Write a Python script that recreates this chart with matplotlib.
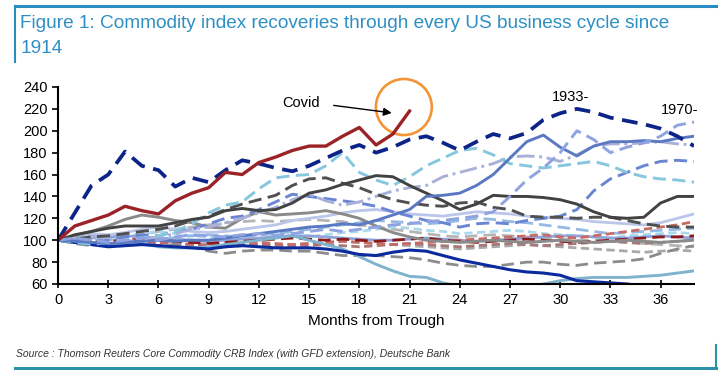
import matplotlib.pyplot as plt
from matplotlib.patches import Ellipse
from matplotlib.lines import Line2D

plt.rcParams['font.family'] = ['Liberation Sans', 'DejaVu Sans']

# months from trough
months = list(range(39))
covid_months = list(range(22))

covid = [100, 113, 118, 123, 131, 127, 124, 136, 143, 148, 162, 160, 171, 176, 182, 186,
         186, 195, 203, 187, 197, 218]
y1933 = [100, 125, 150, 160, 181, 168, 164, 149, 157, 153, 164, 173, 170, 166, 163, 168,
         175, 182, 187, 180, 185, 192, 195, 189, 182, 190, 197, 193, 198, 210, 216, 220,
         217, 212, 209, 206, 202, 195, 186]
y1970 = [100, 102, 100, 98, 100, 102, 100, 103, 105, 104, 103, 105, 106, 104, 106, 108,
         110, 108, 110, 112, 114, 115, 117, 118, 120, 122, 126, 140, 155, 166, 180, 200,
         192, 180, 185, 189, 195, 205, 208]
steel_solid = [100, 99, 98, 97, 98, 99, 100, 99, 100, 100, 102, 104, 106, 108, 110, 112,
               113, 115, 114, 118, 123, 128, 140, 141, 143, 150, 160, 175, 190, 196, 185,
               177, 186, 190, 190, 191, 190, 193, 195]
dark_gray_solid = [100, 105, 108, 111, 113, 113, 113, 116, 119, 121, 127, 129, 127, 128,
                   134, 143, 146, 151, 155, 159, 158, 150, 143, 136, 128, 133, 141, 140,
                   140, 139, 137, 133, 126, 121, 120, 121, 134, 140, 140]
gray_solid = [100, 104, 108, 113, 119, 123, 121, 118, 116, 112, 111, 120, 126, 123, 124,
              125, 127, 124, 120, 113, 107, 103, 100, 99, 98, 99, 100, 99, 98, 99, 100,
              99, 98, 99, 100, 99, 98, 99, 100]
sky_dashed = [100, 98, 96, 98, 100, 102, 104, 108, 115, 125, 132, 135, 147, 157, 159, 160,
              168, 180, 162, 155, 150, 158, 168, 175, 182, 184, 178, 170, 168, 166, 168,
              170, 172, 168, 162, 158, 156, 155, 153]
dark_gray_dashed = [100, 101, 103, 104, 106, 108, 110, 113, 118, 122, 128, 133, 137, 141,
                    150, 156, 157, 152, 148, 142, 137, 134, 132, 131, 134, 135, 130, 128,
                    122, 121, 121, 120, 121, 121, 118, 115, 113, 112, 112]
lavender_dashdot = [100, 103, 104, 101, 99, 100, 103, 106, 110, 112, 116, 120, 125, 130,
                    137, 142, 136, 132, 135, 140, 145, 148, 150, 158, 162, 166, 170, 176,
                    177, 176, 172, 178, 186, 188, 188, 189, 190, 188, 187]
blue_dashed = [100, 101, 99, 100, 103, 105, 104, 108, 110, 115, 120, 122, 128, 135, 142,
               140, 138, 136, 134, 131, 126, 122, 118, 116, 112, 115, 116, 115, 118, 120,
               122, 128, 145, 156, 162, 168, 172, 173, 172]
teal_solid = [100, 98, 96, 95, 96, 97, 94, 93, 93, 94, 96, 98, 100, 102, 104, 100, 96, 92,
              85, 78, 72, 67, 66, 61, 58, 56, 55, 56, 58, 60, 63, 65, 66, 66, 66, 67, 68,
              70, 72]
navy_solid = [100, 98, 96, 94, 95, 96, 95, 94, 93, 92, 94, 95, 94, 93, 93, 93, 92, 90, 87,
              86, 89, 91, 90, 86, 82, 79, 76, 73, 71, 70, 68, 63, 62, 61, 60, 58, 57, 56, 55]
gray_dashed_low = [100, 97, 95, 97, 99, 97, 95, 96, 94, 90, 88, 90, 91, 91, 90, 90, 88, 86,
                   86, 86, 85, 84, 82, 79, 77, 76, 76, 78, 80, 80, 78, 77, 79, 80, 81, 83,
                   88, 92, 95]
red_dashed = [100, 99, 98, 99, 100, 101, 100, 99, 98, 97, 98, 99, 100, 101, 102, 101, 100,
              101, 100, 99, 100, 101, 102, 100, 99, 98, 99, 100, 101, 100, 99, 98, 99, 100,
              101, 102, 103, 103, 104]
rose_dashed = [100, 98, 97, 96, 98, 99, 98, 97, 96, 95, 96, 97, 98, 97, 96, 97, 98, 99, 98,
               97, 96, 97, 98, 99, 100, 101, 102, 103, 104, 105, 103, 102, 104, 106, 108,
               110, 112, 114, 117]
mauve_dashed = [100, 99, 98, 97, 96, 97, 98, 97, 96, 95, 94, 95, 96, 95, 94, 95, 96, 95, 94,
                95, 96, 97, 96, 95, 94, 95, 96, 97, 96, 95, 96, 97, 98, 99, 98, 97, 98, 99, 100]
light_gray_dashed = [100, 101, 103, 104, 103, 105, 108, 110, 112, 114, 116, 117, 118, 117,
                     118, 119, 118, 117, 114, 112, 110, 108, 106, 104, 103, 104, 105, 104,
                     103, 102, 101, 100, 100, 99, 98, 97, 96, 95, 94]
silver_dashed = [100, 99, 100, 101, 100, 99, 98, 97, 96, 97, 98, 97, 96, 95, 96, 97, 98, 99,
                 98, 97, 96, 95, 94, 93, 92, 93, 94, 95, 96, 95, 94, 93, 92, 91, 90, 89, 90,
                 91, 90]
lilac_solid = [100, 104, 106, 105, 107, 110, 112, 110, 108, 107, 108, 110, 112, 114, 118,
               120, 122, 125, 127, 128, 126, 124, 123, 122, 124, 126, 125, 124, 122, 121,
               120, 119, 117, 116, 115, 114, 116, 120, 124]
pale_sky_dashed = [100, 102, 103, 101, 104, 106, 108, 106, 104, 103, 102, 104, 105, 106,
                   104, 103, 105, 107, 108, 110, 112, 111, 109, 108, 106, 107, 108, 109,
                   108, 106, 105, 104, 103, 102, 104, 105, 106, 107, 106]
periwinkle_solid = [100, 101, 102, 103, 104, 103, 102, 101, 100, 99, 100, 101, 102, 103,
                    104, 104, 103, 102, 101, 100, 100, 101, 102, 101, 100, 99, 100, 101,
                    102, 103, 104, 104, 103, 102, 102, 103, 104, 103, 102]
cornflower_dashed = [100, 103, 102, 100, 99, 101, 103, 102, 104, 105, 104, 103, 105, 106,
                     108, 110, 112, 114, 116, 118, 117, 116, 115, 116, 118, 120, 119, 117,
                     116, 114, 112, 110, 108, 106, 107, 108, 109, 110, 111]

x_ticks = list(range(0, 37, 3))
y_ticks = list(range(60, 241, 20))

LONG = (0, (4.5, 2.2))
SHORT = (0, (3, 1.6))
DASHDOT = (0, (6, 1.6, 1, 1.6))

series = [
    (silver_dashed, '#a9a9a9', SHORT, 2.0),
    (light_gray_dashed, '#b5b5b5', LONG, 2.0),
    (pale_sky_dashed, '#a9d9ec', SHORT, 2.0),
    (periwinkle_solid, '#8fa3dc', '-', 2.0),
    (cornflower_dashed, '#95b9e3', LONG, 2.0),
    (lilac_solid, '#bcc5ea', '-', 2.0),
    (mauve_dashed, '#a87878', SHORT, 2.0),
    (rose_dashed, '#c86a66', SHORT, 2.0),
    (red_dashed, '#8b1a1a', LONG, 2.0),
    (gray_dashed_low, '#8c8c8c', LONG, 2.0),
    (teal_solid, '#7fb2cc', '-', 2.1),
    (navy_solid, '#0b2a9e', '-', 2.2),
    (gray_solid, '#8a8a8a', '-', 2.1),
    (blue_dashed, '#6a86d2', LONG, 2.1),
    (lavender_dashdot, '#a9b1d9', DASHDOT, 2.1),
    (dark_gray_dashed, '#505050', LONG, 2.1),
    (sky_dashed, '#86c6de', LONG, 2.1),
    (dark_gray_solid, '#424242', '-', 2.1),
    (steel_solid, '#5b79c2', '-', 2.1),
    (y1970, '#8ea3e0', LONG, 2.1),
]

fig = plt.figure(figsize=(7.26, 3.83), dpi=100)
ax = fig.add_axes([0.08, 0.2585, 0.876, 0.5144])

for vals, color, ls, lw in series:
    ax.plot(months, vals, color=color, linestyle=ls, lw=lw)
ax.plot(months, y1933, color='#0c2487', linestyle=(0, (4.2, 2.3)), lw=2.7)
ax.plot(covid_months, covid, color='#9b2226', lw=2.4)

ax.set_xlim(0, 38)
ax.set_ylim(60, 240)
ax.set_xticks(x_ticks)
ax.set_yticks(y_ticks)
ax.tick_params(axis='both', labelsize=10.5, width=1.2, length=4, color='black')
ax.tick_params(axis='x', direction='inout', length=6)
for side in ['top', 'right']:
    ax.spines[side].set_visible(False)
for side in ['left', 'bottom']:
    ax.spines[side].set_linewidth(1.5)
ax.set_xlabel('Months from Trough', fontsize=11, labelpad=5)

# annotations
ax.text(13.4, 225, 'Covid', fontsize=10.5, va='center')
ax.annotate('', xy=(20.1, 216), xytext=(16.3, 223.5),
            arrowprops=dict(arrowstyle='-|>', color='black', lw=1, mutation_scale=12))
ax.add_patch(Ellipse((20.66, 221.7), 3.34, 51.2, fill=False, edgecolor='#f39436',
                     lw=1.9, clip_on=False))
ax.text(29.5, 231, '1933-', fontsize=10.5, va='center')
ax.text(36.0, 219, '1970-', fontsize=10.5, va='center')

# frame and captions
frame = '#2b8cc4'
fig.add_artist(Line2D([15 / 726, 716 / 726], [1 - 6 / 383] * 2, color=frame, lw=2.2))
fig.add_artist(Line2D([15 / 726] * 2, [1 - 6 / 383, 1 - 62 / 383], color=frame, lw=1.5))
fig.add_artist(Line2D([15 / 726, 716 / 726], [1 - 368 / 383] * 2, color='#2a93a8', lw=2.2))
fig.add_artist(Line2D([716 / 726] * 2, [1 - 345 / 383, 1 - 368 / 383], color='#2a93a8', lw=1.5))

fig.text(20 / 726, 1 - 28 / 383,
         'Figure 1: Commodity index recoveries through every US business cycle since',
         fontsize=13.7, color='#2e8fc4')
fig.text(20 / 726, 1 - 53 / 383, '1914', fontsize=13.7, color='#2e8fc4')
fig.text(16 / 726, 1 - 357 / 383,
         'Source : Thomson Reuters Core Commodity CRB Index (with GFD extension), Deutsche Bank',
         fontsize=7.5, style='italic', color='#333333')

fig.savefig('out.png', dpi=100)
